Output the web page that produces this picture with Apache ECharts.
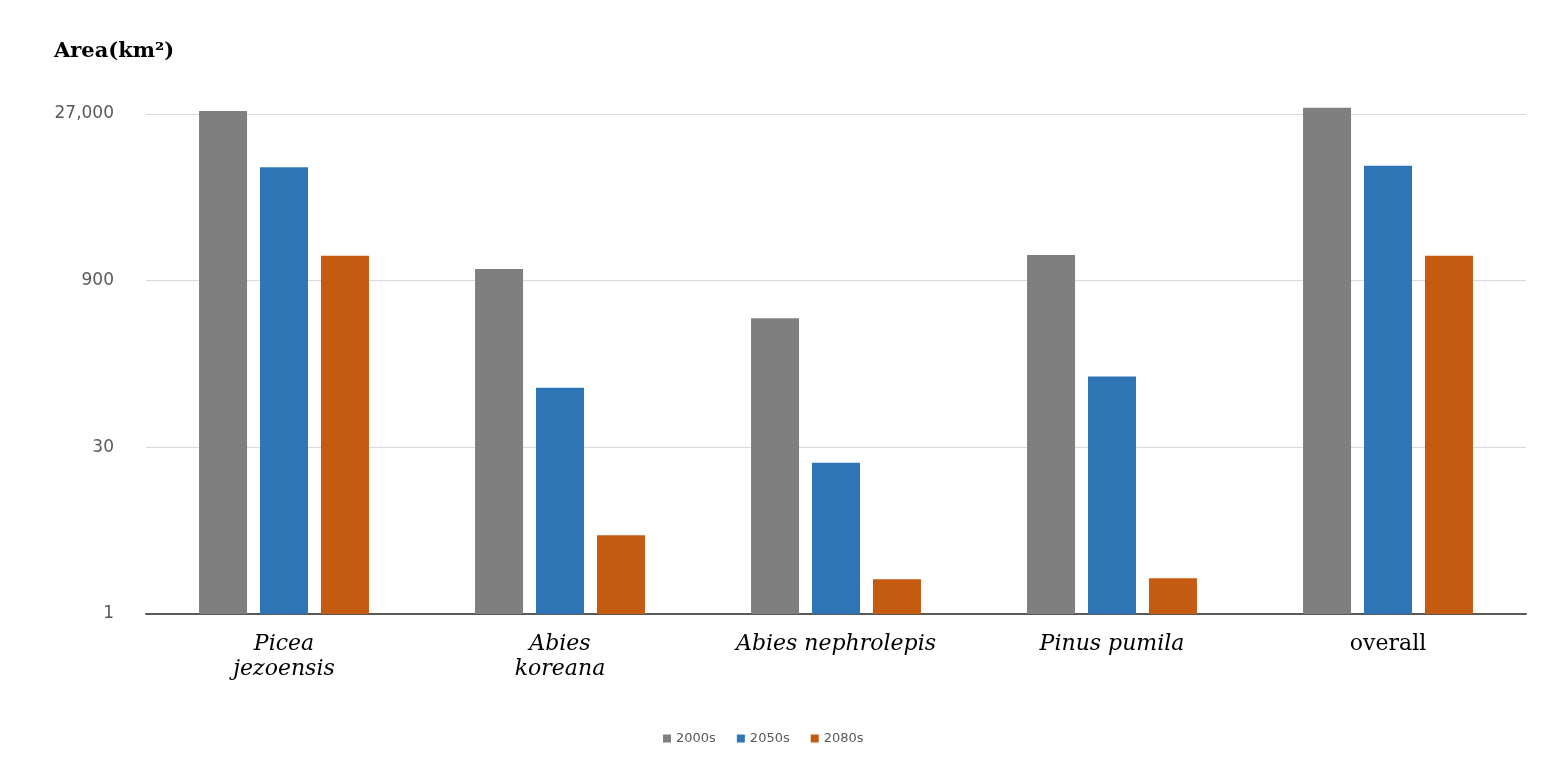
<!DOCTYPE html>
<html>
<head>
<meta charset="utf-8">
<script src="https://cdn.jsdelivr.net/npm/echarts@6/dist/echarts.min.js"></script>
<style>html,body{margin:0;padding:0;background:#fff;}#c{width:1555px;height:768px;}</style>
</head>
<body>
<div id="c"></div>
<script>
const categories = ['Picea\njezoensis', 'Abies\nkoreana', 'Abies nephrolepis', 'Pinus pumila', 'overall'];
const seriesNames = ['2000s', '2050s', '2080s'];
const values2000s = [28700, 1140, 417, 1520, 30700];
const values2050s = [9090, 101, 21.9, 127, 9410];
const values2080s = [1500, 5.0, 2.03, 2.07, 1500];
const yTicks = [1, 30, 900, 27000];
const colors = ['#7f7f7f', '#2e75b6', '#c55a11'];

const chart = echarts.init(document.getElementById('c'));
const seriesData = [values2000s, values2050s, values2080s];
chart.setOption({
  animation: false,
  backgroundColor: '#ffffff',
  color: colors,
  grid: { left: 146, right: 29, top: 114, bottom: 154, containLabel: false },
  graphic: [{
    type: 'text', left: 54, top: 41,
    style: { text: 'Area(km²)', font: 'bold 21px "DejaVu Serif"', fill: '#000' }
  }],
  legend: {
    data: seriesNames,
    left: 658, top: 727,
    itemWidth: 8, itemHeight: 8, itemGap: 21,
    icon: 'rect',
    textStyle: { fontFamily: 'DejaVu Sans', fontSize: 13, color: '#595959' }
  },
  xAxis: {
    type: 'category',
    data: categories,
    axisLine: { lineStyle: { color: '#595959', width: 2 } },
    axisTick: { show: false },
    axisLabel: {
      interval: 0, margin: 18,
      formatter: function (v) {
        if (v === 'overall') return '{n|overall}';
        return v.split('\n').map(s => '{i|' + s + '}').join('\n');
      },
      rich: {
        i: { fontFamily: 'DejaVu Serif', fontStyle: 'italic', fontSize: 22, color: '#000', lineHeight: 25 },
        n: { fontFamily: 'DejaVu Serif', fontSize: 22, color: '#000', lineHeight: 25 }
      }
    }
  },
  yAxis: {
    type: 'log', logBase: 30, min: yTicks[0], max: yTicks[yTicks.length - 1],
    splitNumber: 3,
    axisLine: { show: false },
    axisTick: { show: false },
    splitLine: { lineStyle: { color: '#d9d9d9', width: 1 } },
    axisLabel: {
      margin: 32, fontFamily: 'DejaVu Sans', fontSize: 17, color: '#595959',
      padding: [8, 0, 0, 0],
      formatter: v => Math.round(v).toLocaleString('en-US')
    }
  },
  series: seriesNames.map((n, i) => ({
    name: n, type: 'bar', data: seriesData[i],
    barWidth: 48, barGap: '27%', clip: false,
    itemStyle: { color: colors[i] }
  }))
});
</script>
</body>
</html>
